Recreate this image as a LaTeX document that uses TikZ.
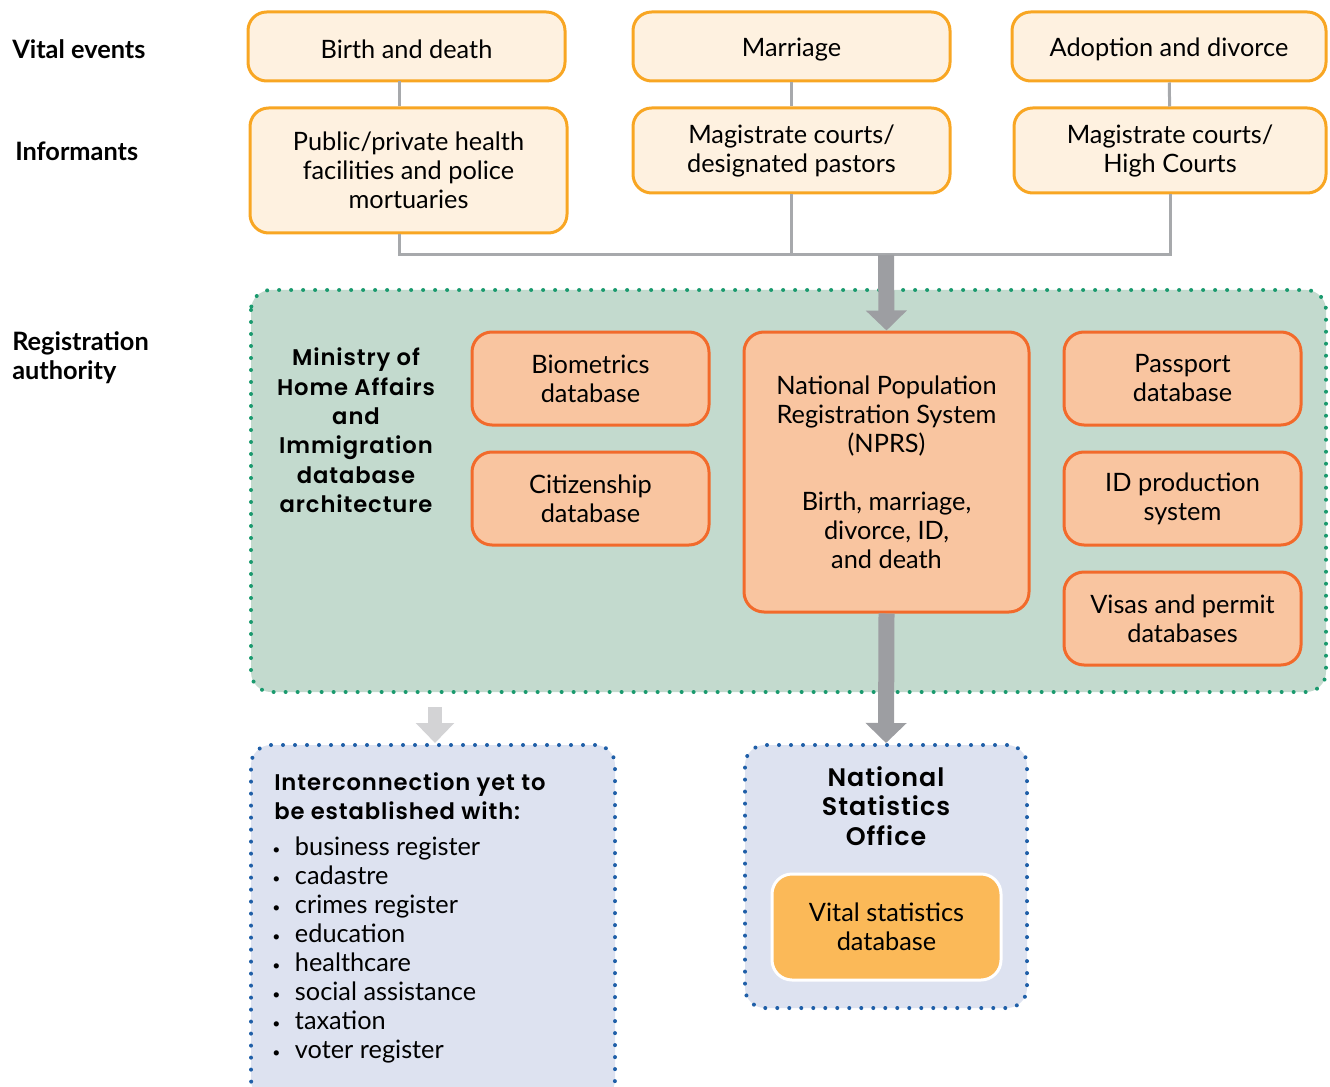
\documentclass[tikz,border=0pt]{standalone}
\usepackage{fontspec}
\setmainfont{Lato}
\newfontfamily\headfont{Poppins}[BoldFont={Poppins SemiBold},LetterSpace=4]
\usetikzlibrary{arrows.meta,positioning}
\definecolor{evfill}{HTML}{FEF1E0}
\definecolor{evdraw}{HTML}{F8A623}
\definecolor{dbfill}{HTML}{F9C5A0}
\definecolor{dbdraw}{HTML}{F26A2B}
\definecolor{regfill}{HTML}{C3DACE}
\definecolor{regdots}{HTML}{1A9A6E}
\definecolor{bluefill}{HTML}{DDE2F0}
\definecolor{bluedots}{HTML}{1F5FA8}
\definecolor{vsfill}{HTML}{FBB958}
\definecolor{linkgray}{HTML}{A7A9AC}
\definecolor{arrgray}{HTML}{9D9EA2}
\definecolor{lightgray}{HTML}{D3D3D5}
\newcommand{\bul}{\makebox[17pt][l]{\raisebox{1pt}{\scalebox{0.55}{\textbullet}}}}
\tikzset{
  boxsize/.style 2 args={minimum width=#1*0.75pt,minimum height=#2*0.75pt},
  txt/.style={font=\fontsize{19}{21.75}\selectfont,text=black},
  boxtxt/.style={txt,execute at begin node={\rule{0pt}{18.5pt}}},
  head/.style={font=\headfont\bfseries\fontsize{17}{22}\selectfont,text=black},
  rowlabel/.style={anchor=west,align=left,inner sep=0pt,font=\bfseries\fontsize{19}{21.75}\selectfont},
  event/.style={boxtxt,draw=evdraw,fill=evfill,line width=2.25pt,rounded corners=14pt,align=center,inner sep=0pt},
  db/.style={boxtxt,draw=dbdraw,fill=dbfill,line width=2.25pt,rounded corners=15pt,align=center,inner sep=0pt},
  dotbox/.style={line width=3pt,line cap=round,dash pattern=on 0pt off 9pt,rounded corners=15pt},
  link/.style={draw=linkgray,line width=2.25pt},
  bigarrow/.style={draw=arrgray,line width=12pt,-{Triangle[width=30pt,length=15pt]}},
  lightarrow/.style={draw=lightgray,line width=11pt,-{Triangle[width=28pt,length=15pt]}}
}
\begin{document}
\begin{tikzpicture}[x=0.75pt,y=-0.75pt]
\clip (0,0) rectangle (1330,1087);
\node[rowlabel] (lvital) at (12,49) {Vital events};
\node[rowlabel] (linform) at (15,151) {Informants};
\node[rowlabel] (lreg) at (12,358) {Registration\\authority};
\node[event,boxsize={317}{69}] (birth) at (406.5,46.5) {Birth and death};
\node[event,boxsize={317}{69}] (marriage) at (791.5,46.5) {Marriage};
\node[event,boxsize={314}{69}] (adoption) at (1169,46.5) {Adoption and divorce};
\node[event,boxsize={317}{125}] (health) at (408.5,170.5) {Public/private health\\facilities and police\\mortuaries};
\node[event,boxsize={317}{85}] (pastors) at (791.5,150.5) {Magistrate courts/\\designated pastors};
\node[event,boxsize={312}{85}] (courts) at (1170,150.5) {Magistrate courts/\\High Courts};
\coordinate (bus) at (886,255);
\coordinate (drop) at (399,81);
\draw[link] (drop) -- (drop |- health.north);
\draw[link] (marriage) -- (pastors);
\draw[link] (adoption) -- (courts);
\draw[link] (drop |- health.south) |- (bus) (pastors.south) -- (pastors.south |- bus) (courts.south) |- (bus);
\draw[dotbox,draw=regdots,fill=regfill] (251,290) rectangle (1326,692);
\node[head,align=center] (ministry) at (356,430.5) {Ministry of\\Home Affairs\\and\\Immigration\\database\\architecture};
\node[db,boxsize={237}{93}] (biometrics) at (590.5,378.5) {Biometrics\\database};
\node[db,boxsize={237}{93}] (citizenship) at (590.5,498.5) {Citizenship\\database};
\node[db,boxsize={285}{280}] (nprs) at (886.5,472) {National Population\\Registration System\\(NPRS)\\[21.75pt]Birth, marriage,\\divorce, ID,\\and death};
\node[db,boxsize={237}{93}] (passport) at (1182.5,378.5) {Passport\\database};
\node[db,boxsize={237}{93}] (idprod) at (1182.5,498.5) {ID production\\system};
\node[db,boxsize={237}{93}] (visas) at (1182.5,618.5) {Visas and permit\\databases};
\draw[bigarrow] (bus) -- (nprs.north);
\node[dotbox,draw=bluedots,fill=bluefill,boxsize={364}{355}] (inter) at (433,922.5) {};
\node[dotbox,draw=bluedots,fill=bluefill,boxsize={282}{263}] (nso) at (886,876.5) {};
\draw[bigarrow] (nprs.south) -- (nso.north);
\coordinate (pending) at (435,707);
\draw[lightarrow] (pending) -- (pending |- inter.north);
\node[head,align=left,anchor=north west,inner sep=0pt] (intertitle) at (274,772) {Interconnection yet to\\be established with:};
\node[txt,align=left,anchor=north west,inner sep=0pt] (interlist) at (272,837) {%
\bul business register\\
\bul cadastre\\
\bul crimes register\\
\bul education\\
\bul healthcare\\
\bul social assistance\\
\bul taxation\\
\bul voter register};
\node[head,font=\headfont\bfseries\fontsize{19}{22}\selectfont,align=center] (nsotitle) at (886,806) {National\\Statistics\\Office};
\node[boxtxt,draw=white,fill=vsfill,line width=2.25pt,rounded corners=15pt,align=center,boxsize={229}{106}] (vitaldb) at (886.5,927) {Vital statistics\\database};
\end{tikzpicture}
\end{document}
